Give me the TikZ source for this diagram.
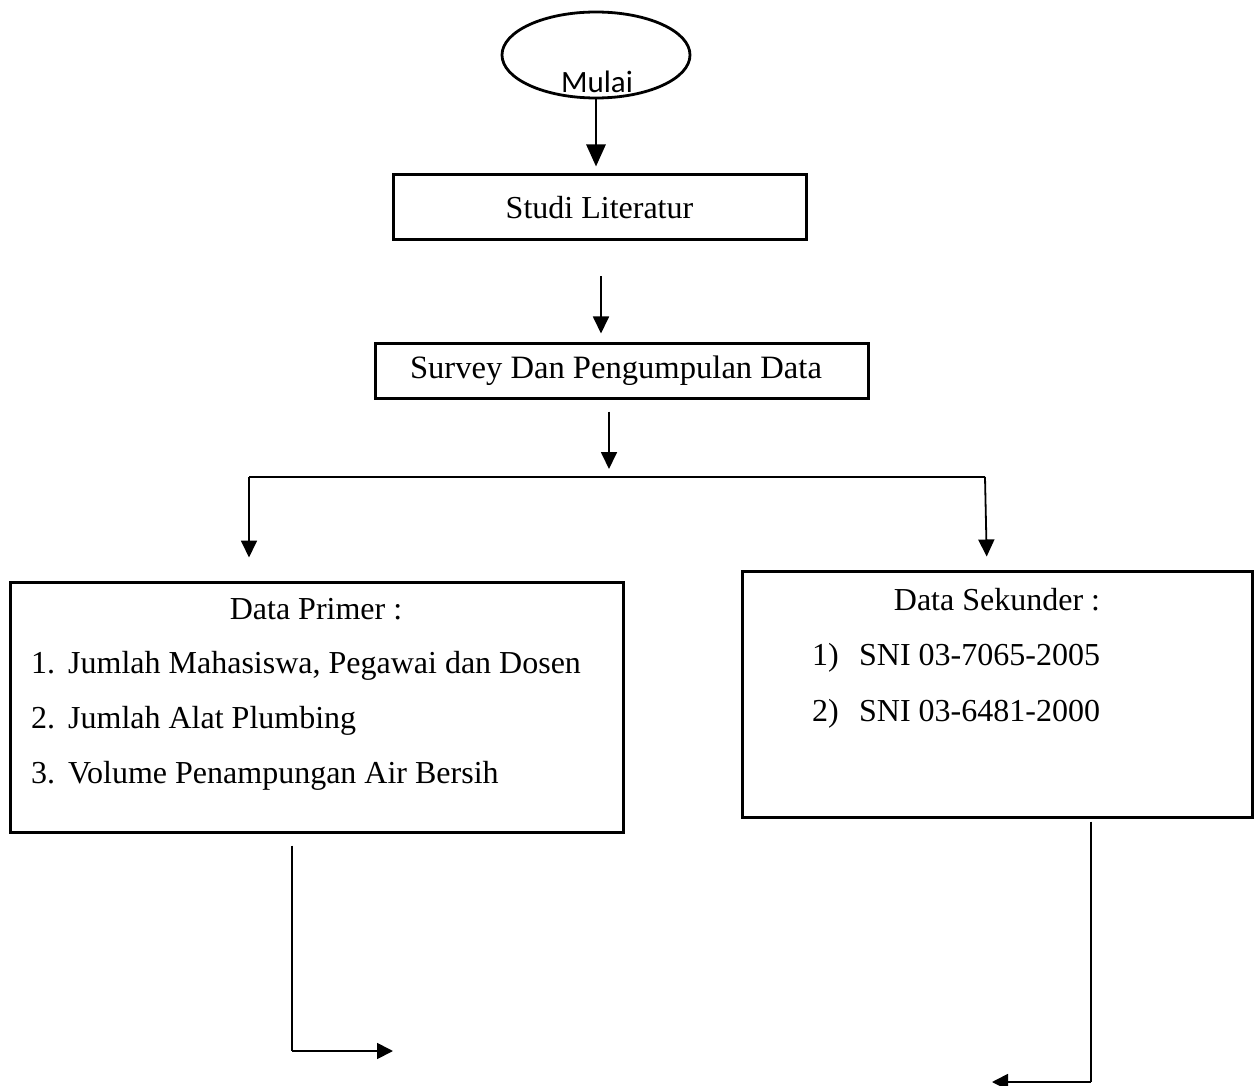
\documentclass[tikz,border=0pt]{standalone}
\usepackage{fontspec}
\setmainfont{Liberation Serif}
\newfontfamily\mulaifont{Carlito}
\usetikzlibrary{arrows.meta,shapes.geometric,calc}
\begin{document}
\begin{tikzpicture}[x=1pt,y=-1pt,
  box/.style={draw, line width=3pt, inner sep=0pt, font=\fontsize{32}{38}\selectfont},
  txt/.style={inner sep=0pt, font=\fontsize{32}{38}\selectfont},
  arr/.style={line width=1.8pt, -{Triangle[length=17pt,width=16pt]}},
  bigarr/.style={line width=2.8pt, -{Triangle[length=22pt,width=19pt]}},
  plain/.style={line width=2.6pt},
  thinline/.style={line width=1.8pt}]
\useasboundingbox (0,0) rectangle (1254,1086);

% start ellipse
\node[draw, ellipse, line width=2.8pt, minimum width=188pt, minimum height=86pt, inner sep=0pt] (start) at (596,55) {};
\node[anchor=base, inner sep=0pt, font=\mulaifont\fontsize{31}{37}\selectfont] (mulai) at (597,93) {Mulai};

% boxes
\node[box, minimum width=413pt, minimum height=65pt] (studi) at (599.5,207.5) {Studi Literatur};
\node[box, minimum width=493pt, minimum height=55pt] (survey) at (621.5,370.5) {\hspace*{-11pt}\fontsize{32.6}{38}\selectfont Survey Dan Pengumpulan Data};
\node[box, minimum width=613pt, minimum height=250pt] (primer) at (316.5,707) {};
\node[box, minimum width=510pt, minimum height=246pt] (sekunder) at (997,694) {};

% texts in primer
\node[txt, anchor=base] (ptitle) at (316,619) {Data Primer :};
\node[txt, anchor=base west] (p1) at (31,673) {\makebox[37pt][l]{1.}Jumlah Mahasiswa, Pegawai dan Dosen};
\node[txt, anchor=base west] (p2) at (31,728) {\makebox[37pt][l]{2.}Jumlah Alat Plumbing};
\node[txt, anchor=base west] (p3) at (31,783) {\makebox[37pt][l]{3.}Volume Penampungan Air Bersih};

% texts in sekunder
\node[txt, anchor=base] (stitle) at (997,610) {Data Sekunder :};
\node[txt, anchor=base west] (s1) at (812,665) {\makebox[47pt][l]{1)}SNI 03-7065-2005};
\node[txt, anchor=base west] (s2) at (812,721) {\makebox[47pt][l]{2)}SNI 03-6481-2000};

% helper coordinates
\coordinate (a2) at (601,0);
\coordinate (a3) at (609,0);
\coordinate (bl) at (249,477);
\coordinate (br) at (985,477);
\coordinate (lx) at (292,0);
\coordinate (lend) at (393,1051);
\coordinate (rx) at (1091,0);
\coordinate (rend) at (992,1082);

% connectors
\draw[bigarr, shorten >=7pt] (start.south) -- (start.south |- studi.north);
\draw[arr, shorten <=35pt, shorten >=8pt] (studi.south -| a2) -- (a2 |- survey.north);
\draw[arr, shorten <=12pt, shorten >=8pt] (survey.south -| a3) -- (a3 |- bl);
\draw[plain] (bl) -- (br);
\draw[arr, shorten >=23pt] (bl) -- (bl |- primer.north);
\draw[arr, shorten >=13pt] (br) -- ([xshift=2pt]br |- sekunder.north);

\draw[plain, shorten <=12pt] (primer.south -| lx) -- (lx |- lend);
\draw[thinline, -{Triangle[length=16pt,width=16pt]}] (lx |- lend) -- (lend);
\draw[plain, shorten <=3pt] (sekunder.south -| rx) -- (rx |- rend);
\draw[thinline, -{Triangle[length=16pt,width=16pt]}] (rx |- rend) -- (rend);
\end{tikzpicture}
\end{document}
